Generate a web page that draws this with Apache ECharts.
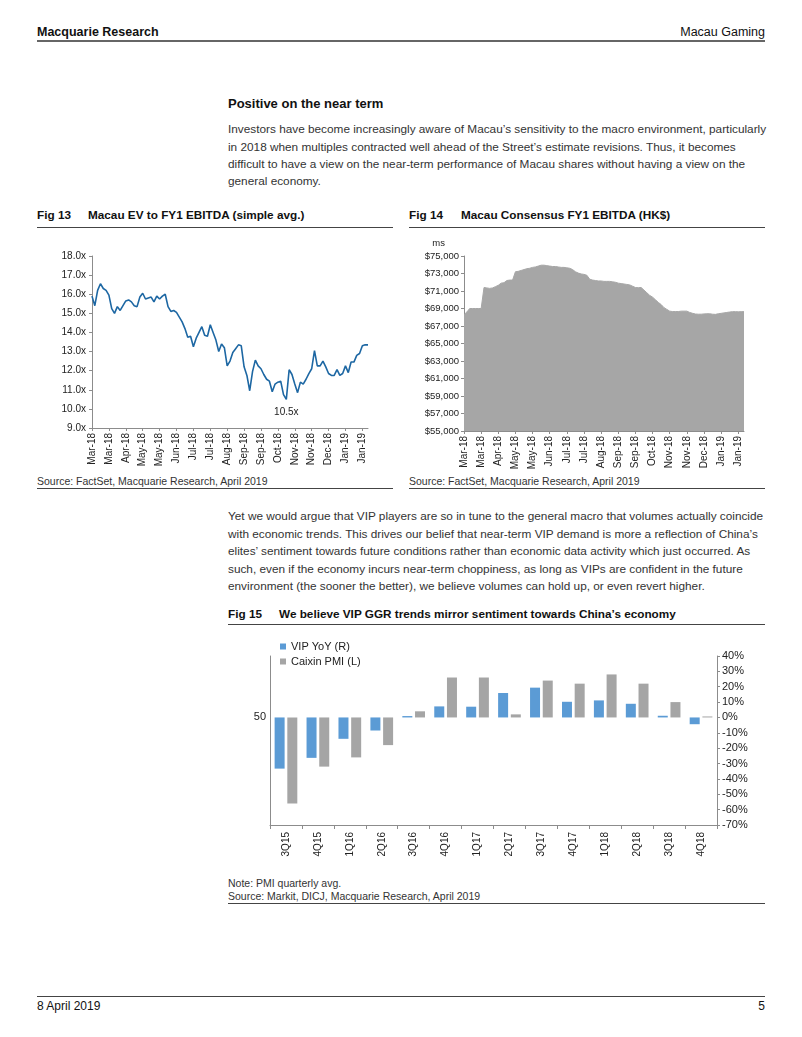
<!DOCTYPE html>
<html>
<head>
<meta charset="utf-8">
<script src="https://cdn.jsdelivr.net/npm/echarts@6/dist/echarts.min.js"></script>
<style>
html,body{margin:0;padding:0;background:#fff;}
#page{position:relative;width:802px;height:1037px;overflow:hidden;font-family:'Liberation Sans',Arial,sans-serif;color:#222;}
.t{position:absolute;white-space:nowrap;line-height:14px;}
.b{font-weight:bold;color:#111;}
.p{font-size:11.8px;color:#333;}
.f{font-size:11.75px;}
.r{position:absolute;height:1px;background:#444;}
#chart{position:absolute;left:0;top:0;width:802px;height:1037px;}
</style>
</head>
<body>
<div id="page">
  <div class="t b" style="left:37px;top:25px;font-size:12.5px;">Macquarie Research</div>
  <div class="t" style="right:37px;top:25px;font-size:12.5px;color:#111;">Macau Gaming</div>
  <div class="r" style="left:37px;top:40px;width:728px;height:2px;background:#666;"></div>

  <div class="t b" style="left:228px;top:97px;font-size:13px;">Positive on the near term</div>
  <div class="t p" style="left:228px;top:122px;">Investors have become increasingly aware of Macau’s sensitivity to the macro environment, particularly</div>
  <div class="t p" style="left:228px;top:140px;">in 2018 when multiples contracted well ahead of the Street’s estimate revisions. Thus, it becomes</div>
  <div class="t p" style="left:228px;top:157px;">difficult to have a view on the near-term performance of Macau shares without having a view on the</div>
  <div class="t p" style="left:228px;top:174px;">general economy.</div>

  <div class="t b f" style="left:37px;top:208px;">Fig 13</div>
  <div class="t b f" style="left:88px;top:208px;">Macau EV to FY1 EBITDA (simple avg.)</div>
  <div class="r" style="left:37px;top:227px;width:356px;"></div>
  <div class="t b f" style="left:409px;top:208px;">Fig 14</div>
  <div class="t b f" style="left:461px;top:208px;">Macau Consensus FY1 EBITDA (HK$)</div>
  <div class="r" style="left:409px;top:227px;width:356px;"></div>

  <div class="t" style="left:37px;top:474px;font-size:10.5px;color:#333;">Source: FactSet, Macquarie Research, April 2019</div>
  <div class="r" style="left:37px;top:488px;width:356px;"></div>
  <div class="t" style="left:409px;top:474px;font-size:10.5px;color:#333;">Source: FactSet, Macquarie Research, April 2019</div>
  <div class="r" style="left:409px;top:488px;width:356px;"></div>

  <div class="t p" style="left:228px;top:509px;">Yet we would argue that VIP players are so in tune to the general macro that volumes actually coincide</div>
  <div class="t p" style="left:228px;top:527px;">with economic trends. This drives our belief that near-term VIP demand is more a reflection of China’s</div>
  <div class="t p" style="left:228px;top:544px;">elites’ sentiment towards future conditions rather than economic data activity which just occurred. As</div>
  <div class="t p" style="left:228px;top:562px;">such, even if the economy incurs near-term choppiness, as long as VIPs are confident in the future</div>
  <div class="t p" style="left:228px;top:579px;">environment (the sooner the better), we believe volumes can hold up, or even revert higher.</div>

  <div class="t b f" style="left:228px;top:607px;">Fig 15</div>
  <div class="t b f" style="left:279px;top:607px;">We believe VIP GGR trends mirror sentiment towards China’s economy</div>
  <div class="r" style="left:228px;top:624px;width:537px;"></div>

  <div class="t" style="left:228px;top:876px;font-size:10.5px;color:#333;">Note: PMI quarterly avg.</div>
  <div class="t" style="left:228px;top:889px;font-size:10.5px;color:#333;">Source: Markit, DICJ, Macquarie Research, April 2019</div>
  <div class="r" style="left:228px;top:903px;width:537px;"></div>

  <div class="r" style="left:37px;top:996px;width:728px;"></div>
  <div class="t" style="left:37px;top:999px;font-size:12px;color:#111;">8 April 2019</div>
  <div class="t" style="right:37px;top:999px;font-size:12px;color:#111;">5</div>

  <div id="chart"></div>
</div>
<script>
// ---- Fig 13: Macau EV / FY1 EBITDA (x), Mar-18 .. Jan-19 ----
const dateTicks = ['Mar-18','Mar-18','Apr-18','May-18','May-18','Jun-18','Jul-18','Jul-18','Aug-18','Sep-18','Sep-18','Oct-18','Nov-18','Nov-18','Dec-18','Jan-19','Jan-19'];
const evEbitda = [15.9,15.4,16.2,16.55,16.3,16.2,15.95,15.25,15.0,15.35,
  15.15,15.4,15.65,15.7,15.6,15.4,15.35,15.85,16.05,15.75,
  15.8,15.85,15.6,15.9,15.75,15.9,16.0,15.35,15.1,15.15,
  15.05,14.8,14.55,14.2,13.75,13.8,13.25,13.7,14.0,14.3,
  13.85,13.8,14.4,14.0,13.6,13.0,13.4,13.2,12.25,12.5,
  12.95,13.15,13.35,13.3,12.2,11.75,10.95,11.95,12.55,12.25,
  12.1,11.8,11.55,11.45,10.9,11.3,11.4,11.45,10.75,10.5,
  12.05,11.8,11.3,10.85,11.4,11.3,11.55,11.85,12.1,13.05,
  12.25,12.25,12.5,12.2,11.85,11.75,11.75,12.05,11.75,11.85,
  12.25,11.9,12.45,12.45,12.8,12.9,13.3,13.35,13.35];
// ---- Fig 14: Macau consensus FY1 EBITDA (HK$ ms) ----
const consensusEbitda = [68300,68600,69000,69000,69000,69000,69000,71400,71350,71300,
  71350,71500,71650,71900,71950,72200,72250,72250,73200,73250,
  73350,73450,73550,73600,73700,73750,73850,73950,73950,73900,
  73850,73800,73800,73750,73700,73700,73650,73600,73450,73200,
  73050,72950,72900,72800,72350,72250,72200,72150,72150,72100,
  72100,72100,72050,72000,71900,71850,71800,71750,71700,71550,
  71400,71380,71400,71100,70800,70500,70300,70000,69700,69450,
  69100,68900,68700,68650,68650,68650,68700,68700,68700,68550,
  68450,68370,68350,68350,68380,68400,68400,68350,68330,68400,
  68450,68500,68550,68600,68640,68640,68620,68640,68640];
// ---- Fig 15: VIP GGR YoY vs Caixin PMI ----
const quarters = ['3Q15','4Q15','1Q16','2Q16','3Q16','4Q16','1Q17','2Q17','3Q17','4Q17','1Q18','2Q18','3Q18','4Q18'];
const vipYoY = [-33.3,-26.3,-13.9,-8.5,0.9,7.2,7.0,15.9,19.4,10.2,11.1,8.9,1.1,-4.4];
const caixinPMI = [47.2,48.4,48.7,49.1,50.2,51.3,51.3,50.1,51.2,51.1,51.4,51.1,50.5,50.0];
const pmiBase = 50;

const FONT = "'Liberation Sans', Arial, sans-serif";
const AX = '#8c8c8c';
const TXT = '#222';
const STEP = 6; // data points between date tick labels
const idx = evEbitda.map((_, i) => String(i));

function dateAxis(gridIndex, fs) {
  return {
    type: 'category', gridIndex, data: idx, boundaryGap: false,
    axisLine: {lineStyle: {color: AX}},
    axisTick: {show: true, interval: STEP - 1, length: 3, lineStyle: {color: AX}},
    axisLabel: {interval: STEP - 1, rotate: 90, margin: 5, fontSize: fs, color: TXT, fontFamily: FONT,
      formatter: (v, i) => dateTicks[Math.round(i / STEP)] || ''},
    splitLine: {show: false}
  };
}

const chart = echarts.init(document.getElementById('chart'), null, {renderer: 'canvas'});
chart.setOption({
  animation: false,
  textStyle: {fontFamily: FONT},
  grid: [
    {left: 92, top: 256, width: 276, height: 172},
    {left: 464, top: 256, width: 280, height: 175},
    {left: 270, top: 656, width: 447, height: 169}
  ],
  legend: {
    left: 280, top: 641, orient: 'vertical', itemGap: 4, itemWidth: 6, itemHeight: 6, padding: 0,
    icon: 'rect', textStyle: {fontSize: 11, color: TXT, fontFamily: FONT},
    data: ['VIP YoY (R)', 'Caixin PMI (L)']
  },
  xAxis: [
    dateAxis(0, 10),
    dateAxis(1, 10),
    {
      type: 'category', gridIndex: 2, data: quarters, boundaryGap: true,
      axisLine: {onZero: false, lineStyle: {color: AX}},
      axisTick: {show: true, length: 4, lineStyle: {color: AX}},
      axisLabel: {rotate: 90, margin: 7, fontSize: 10, color: TXT, fontFamily: FONT}
    }
  ],
  yAxis: [
    {
      type: 'value', gridIndex: 0, min: 9, max: 18, interval: 1,
      axisLine: {show: true, lineStyle: {color: AX}},
      axisTick: {show: true, length: 3, lineStyle: {color: AX}},
      splitLine: {show: false},
      axisLabel: {margin: 6, fontSize: 10, color: TXT, fontFamily: FONT, formatter: v => v.toFixed(1) + 'x'}
    },
    {
      type: 'value', gridIndex: 1, min: 55000, max: 75000, interval: 2000,
      name: 'ms', nameLocation: 'end', nameGap: 8,
      nameTextStyle: {fontSize: 9.5, color: TXT, align: 'right', padding: [0, 19, 0, 0], fontFamily: FONT},
      axisLine: {show: true, lineStyle: {color: AX}},
      axisTick: {show: true, length: 3, lineStyle: {color: AX}},
      splitLine: {show: false},
      axisLabel: {margin: 5, fontSize: 9.5, color: TXT, fontFamily: FONT,
        formatter: v => '$' + v.toLocaleString('en-US')}
    },
    {
      // left axis: Caixin PMI, plotted as deviation from 50
      type: 'value', gridIndex: 2, position: 'left', min: -3.5, max: 2, interval: 0.5,
      axisLine: {show: true, lineStyle: {color: AX}},
      axisTick: {show: false},
      splitLine: {show: false},
      axisLabel: {margin: 4, fontSize: 11, color: TXT, fontFamily: FONT,
        formatter: v => (Math.abs(v) < 1e-9 ? String(pmiBase) : '')}
    },
    {
      type: 'value', gridIndex: 2, position: 'right', min: -70, max: 40, interval: 10,
      axisLine: {show: true, lineStyle: {color: AX}},
      axisTick: {show: true, length: 3, lineStyle: {color: AX}},
      splitLine: {show: false},
      axisLabel: {margin: 5, fontSize: 11, color: TXT, fontFamily: FONT, formatter: v => v + '%'}
    }
  ],
  series: [
    {
      type: 'line', xAxisIndex: 0, yAxisIndex: 0, data: evEbitda, showSymbol: false,
      lineStyle: {color: '#1d67a3', width: 1.6}, itemStyle: {color: '#1d67a3'},
      markPoint: {
        symbol: 'circle', symbolSize: 0, silent: true,
        data: [{type: 'min'}],
        label: {show: true, position: 'bottom', distance: 8, fontSize: 10, color: TXT, fontFamily: FONT,
          formatter: p => p.value.toFixed(1) + 'x'}
      }
    },
    {
      type: 'line', xAxisIndex: 1, yAxisIndex: 1, data: consensusEbitda, showSymbol: false,
      lineStyle: {color: '#a6a6a6', width: 1}, itemStyle: {color: '#a6a6a6'},
      areaStyle: {color: '#a6a6a6', opacity: 1, origin: 'start'}
    },
    {
      name: 'VIP YoY (R)', type: 'bar', xAxisIndex: 2, yAxisIndex: 3, data: vipYoY,
      barWidth: 10, barGap: '27%', barMinHeight: 1, itemStyle: {color: '#5b9bd5'}
    },
    {
      name: 'Caixin PMI (L)', type: 'bar', xAxisIndex: 2, yAxisIndex: 2,
      data: caixinPMI.map(v => +(v - pmiBase).toFixed(2)),
      barWidth: 10, barGap: '27%', barMinHeight: 1, itemStyle: {color: '#a5a5a5'}
    }
  ]
});
</script>
</body>
</html>
